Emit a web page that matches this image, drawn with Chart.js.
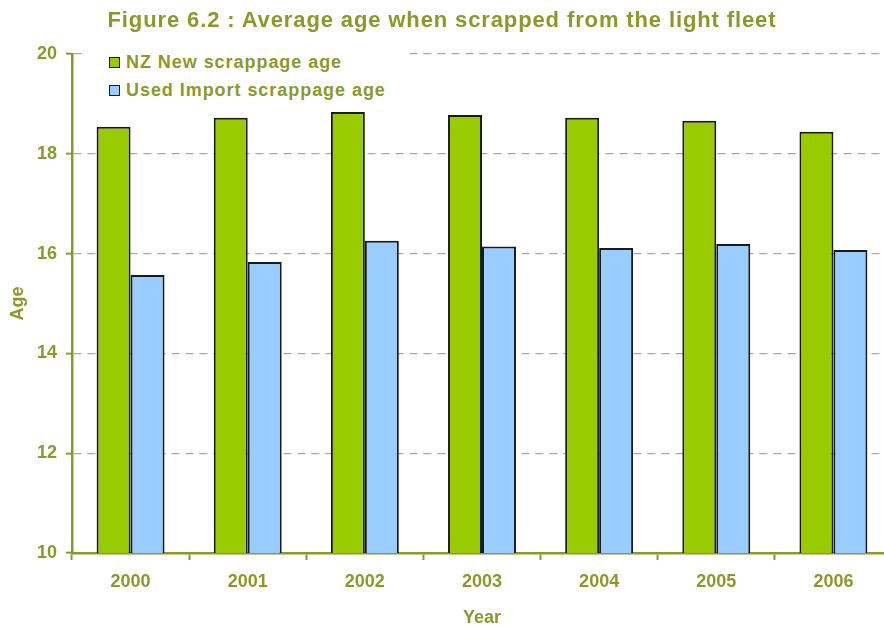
<!DOCTYPE html>
<html>
<head>
<meta charset="utf-8">
<script src="https://cdn.jsdelivr.net/npm/chart.js@4.4.1/dist/chart.umd.min.js"></script>
<style>
  html, body { margin: 0; padding: 0; background: #fff; overflow: hidden; width: 884px; height: 626px; }
  #wrap { position: relative; width: 892px; height: 626px; }
  #title {
    position: absolute; left: 0; top: 7px; width: 884px; text-align: center;
    font: bold 22px "Liberation Sans", Arial, sans-serif; color: #8a9a2a; letter-spacing: 0.88px;
  }
  #legend {
    position: absolute; left: 82px; top: 46px; width: 326px; height: 58px; background: #fff;
    font: bold 18px "Liberation Sans", Arial, sans-serif; color: #8a9a2a; letter-spacing: 0.95px;
  }
  #legend .item { position: absolute; left: 44px; height: 22px; line-height: 22px; white-space: nowrap; }
  #legend .box {
    position: absolute; left: -17px; top: 6px; width: 9px; height: 9px; border: 1.5px solid #1a1a1a;
  }
</style>
</head>
<body>
<div id="wrap">
  <canvas id="chart" width="892" height="626"></canvas>
  <div id="title">Figure 6.2 : Average age when scrapped from the light fleet</div>
  <div id="legend"></div>
</div>
<script>
const YEARS = ["2000", "2001", "2002", "2003", "2004", "2005", "2006"];
const NZ_NEW = [18.54, 18.72, 18.84, 18.78, 18.72, 18.66, 18.44];
const USED_IMPORT = [15.57, 15.83, 16.26, 16.14, 16.11, 16.19, 16.07];
const SERIES_NAMES = ["NZ New scrappage age", "Used Import scrappage age"];
const FILLS = ["#99cc00", "#99ccff"];

const OLIVE = "#8a9a2a";
const FONT = "'Liberation Sans', Arial, sans-serif";

// legend sits inside the plot on a white patch
const legend = document.getElementById("legend");
SERIES_NAMES.forEach((name, i) => {
  const item = document.createElement("div");
  item.className = "item";
  item.style.top = (5 + i * 28) + "px";
  item.innerHTML = `<span class="box" style="background:${FILLS[i]}"></span>${name}`;
  legend.appendChild(item);
});

function bars(label, data, color) {
  return {
    label, data, backgroundColor: color, borderColor: "#1a1a1a", borderWidth: 2,
    categoryPercentage: 0.58, barPercentage: 1.0,
  };
}

new Chart(document.getElementById("chart"), {
  type: "bar",
  data: {
    labels: YEARS,
    datasets: [bars(SERIES_NAMES[0], NZ_NEW, FILLS[0]), bars(SERIES_NAMES[1], USED_IMPORT, FILLS[1])],
  },
  options: {
    responsive: false,
    animation: false,
    layout: { padding: { top: 54, left: 0, right: 0, bottom: 0 } },
    plugins: { legend: { display: false }, tooltip: { enabled: false } },
    scales: {
      x: {
        grid: { offset: true, drawOnChartArea: false, tickLength: 7, tickColor: OLIVE, tickWidth: 2 },
        border: { color: OLIVE, width: 2.5 },
        ticks: { color: OLIVE, font: { family: FONT, size: 18, weight: "bold" }, padding: 11 },
        title: {
          display: true, text: "Year", color: OLIVE,
          font: { family: FONT, size: 18, weight: "bold" }, padding: { top: -3, bottom: -3 },
        },
        afterFit: (s) => { s.height = 73; },
      },
      y: {
        min: 10, max: 20,
        ticks: { stepSize: 2, color: OLIVE, font: { family: FONT, size: 18, weight: "bold" }, padding: 9 },
        grid: {
          color: "#aaaaaa", lineWidth: 1.3, tickLength: 6, tickColor: OLIVE, tickWidth: 2,
          tickBorderDash: [], borderDash: [8, 6],
        },
        border: { color: OLIVE, width: 2.5, dash: [8, 6] },
        title: {
          display: true, text: "Age", color: OLIVE,
          font: { family: FONT, size: 18, weight: "bold" }, padding: { top: 7, bottom: 0 },
        },
        afterFit: (s) => { s.width = 72; },
      },
    },
  },
});
</script>
</body>
</html>
